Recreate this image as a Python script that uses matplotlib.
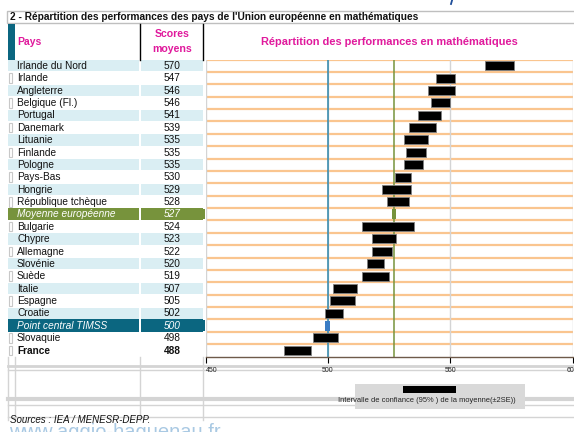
import matplotlib
matplotlib.use("Agg")
import matplotlib.pyplot as plt
from matplotlib.patches import Rectangle

plt.rcParams['font.family'] = ['Liberation Sans', 'DejaVu Sans']

# ---------------- data ----------------
countries = ["Irlande du Nord", "Irlande", "Angleterre", "Belgique (Fl.)", "Portugal",
             "Danemark", "Lituanie", "Finlande", "Pologne", "Pays-Bas", "Hongrie",
             "République tchèque", "Moyenne européenne", "Bulgarie", "Chypre",
             "Allemagne", "Slovénie", "Suède", "Italie", "Espagne", "Croatie",
             "Point central TIMSS", "Slovaquie", "France"]
scores = [570, 547, 546, 546, 541, 539, 535, 535, 535, 530, 529, 528, 527,
          524, 523, 522, 520, 519, 507, 505, 502, 500, 498, 488]
ci_low = [564, 544, 541, 542, 537, 533, 531, 532, 531, 527.5, 522, 524, 526.2,
          514, 518, 518, 516, 514, 502, 501, 499, 498.9, 494, 482]
ci_high = [576, 552, 552, 550, 546, 544, 541, 540, 539, 534, 534, 533, 527.9,
           535, 528, 526, 523, 525, 512, 511, 506, 500.7, 504, 493]
special = {"Moyenne européenne": "#77933C", "Point central TIMSS": "#0B6680"}
bold_rows = ["France"]
x_ticks = [450, 500, 550, 600]
eu_mean = 527
timss_center = 500

# ---------------- layout (pixels) ----------------
W, H = 574, 432
fig = plt.figure(figsize=(W / 100, H / 100), dpi=100)
bg = fig.add_axes([0, 0, 1, 1])
bg.set_xlim(0, W)
bg.set_ylim(H, 0)
bg.axis("off")

MAG = "#E0199C"
LBLUE = "#DAEEF3"
ORANGE = "#FAC58F"
GRID = "#D4D4D4"

row_top = 59.5
row_bot = 356.5
n = len(countries)
rh = (row_bot - row_top) / n

# title bar
bg.add_patch(Rectangle((7, 11), 570, 12, facecolor="white", edgecolor="#BFBFBF", lw=1))
bg.text(10, 17.3, "2 - Répartition des performances des pays de l'Union européenne en mathématiques",
        fontsize=7.3, fontweight="bold", va="center", ha="left", color="#111111")
bg.plot([452, 451], [0.5, 4], color="#1F4E9A", lw=1.3)

# header
bg.add_patch(Rectangle((8, 24), 7, 35.5, facecolor="#0B6680", edgecolor="none"))
bg.plot([140, 140], [24, 59.5], color="black", lw=1)
bg.plot([203, 203], [24, 59.5], color="black", lw=1)
bg.text(17, 42, "Pays", color=MAG, fontsize=7.5, fontweight="bold", va="center")
bg.text(172, 34, "Scores", color=MAG, fontsize=7.6, fontweight="bold", va="center", ha="center")
bg.text(172, 49, "moyens", color=MAG, fontsize=7.6, fontweight="bold", va="center", ha="center")
bg.text(389.5, 42, "Répartition des performances en mathématiques", color=MAG,
        fontsize=7.9, fontweight="bold", va="center", ha="center")

# table rows
prev_special = False
for i, (c, s) in enumerate(zip(countries, scores)):
    y0 = row_top + i * rh
    yc = y0 + rh / 2
    if c in special:
        col = special[c]
        bg.add_patch(Rectangle((8, y0), 131, rh, facecolor=col, edgecolor="none"))
        bg.add_patch(Rectangle((141, y0), 61.5, rh, facecolor=col, edgecolor="none"))
        bg.add_patch(Rectangle((203, y0 + 1), 2, rh - 2, facecolor=col, edgecolor="none"))
        tc, st, fw = "white", "italic", "normal"
        prev_special = True
    else:
        blue = (i % 2 == 0) and not prev_special
        if blue:
            bg.add_patch(Rectangle((8, y0 + 0.5), 131, rh - 1, facecolor=LBLUE, edgecolor="none"))
            bg.add_patch(Rectangle((141, y0 + 0.5), 61.5, rh - 1, facecolor=LBLUE, edgecolor="none"))
        else:
            bg.add_patch(Rectangle((8.5, y0 + 1.5), 3, rh - 3, facecolor="white",
                                   edgecolor="#C8C8C8", lw=0.8))
        tc, st = "#111111", "normal"
        fw = "bold" if c in bold_rows else "normal"
        prev_special = False
    bg.text(17, yc + 0.3, c, color=tc, style=st, fontweight=fw, fontsize=7.3, va="center")
    bg.text(172, yc + 0.3, str(s), color=tc, style=st, fontweight=fw, fontsize=7.3,
            va="center", ha="center")

# lower grid of the sheet
for x in [8, 15, 140, 203]:
    bg.plot([x, x], [357, 420], color=GRID, lw=1)
for y, lw in [(365.5, 2), (369.5, 1), (398.5, 3), (405, 1), (416.5, 1)]:
    bg.plot([8, W], [y, y], color=GRID, lw=lw)

# legend box
bg.add_patch(Rectangle((355, 384), 170, 25, facecolor="#D9D9D9", edgecolor="none", zorder=3))
bg.add_patch(Rectangle((403, 386), 53, 7, facecolor="black", edgecolor="none", zorder=4))
bg.text(427, 401, "Intervalle de confiance (95% ) de la moyenne(±2SE))", fontsize=5.4,
        ha="center", va="center", color="#222222", zorder=4)

# sources + watermark
bg.text(10, 420, "Sources : IEA / MENESR-DEPP.", fontsize=7, style="italic",
        va="center", color="#111111", zorder=5)
bg.text(9, 438, "www.aggio-haguenau.fr", fontsize=14.5, color="#A9C9E3",
        va="baseline", ha="left", zorder=4)

# ---------------- plot axes ----------------
x0, x1 = 205.5, 572.7
ax = fig.add_axes([x0 / W, (H - row_bot) / H, (x1 - x0) / W, (row_bot - row_top) / H])
ax.set_xlim(x_ticks[0], x_ticks[-1])
ax.set_ylim(n - 0.5, -0.5)
ax.patch.set_alpha(0)
for sp in ["top", "right", "left"]:
    ax.spines[sp].set_visible(False)
ax.spines["bottom"].set_color("#6E5A4A")
ax.spines["bottom"].set_linewidth(1)

for k in range(n):
    ax.axhline(k - 0.5, color=ORANGE, lw=1.6, zorder=1)
for xt in x_ticks:
    ax.axvline(xt, color=GRID, lw=1, zorder=1)
ax.axvline(timss_center, color="#2E86AB", lw=1.1, zorder=2)
ax.axvline(eu_mean, color="#77933C", lw=1.1, zorder=2)

ys = list(range(n))
normal_idx = [i for i, c in enumerate(countries) if c not in special]
ax.barh([ys[i] for i in normal_idx],
        [ci_high[i] - ci_low[i] for i in normal_idx],
        left=[ci_low[i] for i in normal_idx], height=0.72,
        color="black", edgecolor="#7F7F7F", lw=0.6, zorder=3)
marker_cols = {"Moyenne européenne": "#77933C", "Point central TIMSS": "#3A7CC4"}
for i, c in enumerate(countries):
    if c in special:
        ax.barh(ys[i], ci_high[i] - ci_low[i], left=ci_low[i], height=0.8,
                color=marker_cols[c], edgecolor="none", zorder=3)

ax.set_yticks([])
ax.set_xticks(x_ticks)
ax.set_xticklabels([str(t) for t in x_ticks], fontsize=5, color="#222222")
ax.tick_params(axis="x", direction="out", length=4.5, width=0.8, color="black", pad=3)
for lab in ax.get_xticklabels():
    if lab.get_text() == "450":
        lab.set_ha("left")

fig.savefig("out.png", dpi=100)
